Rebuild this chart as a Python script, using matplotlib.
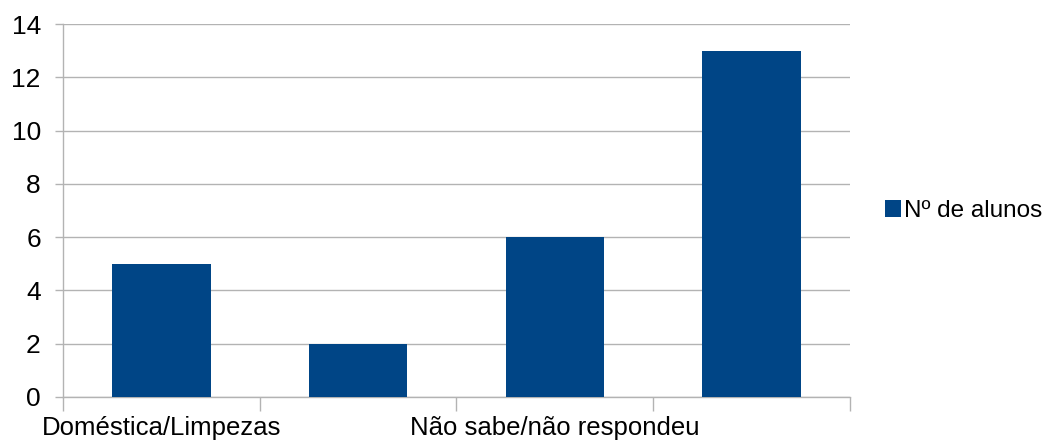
import matplotlib
matplotlib.use("Agg")
import matplotlib.pyplot as plt
import numpy as np

categories = ["Doméstica/Limpezas", "", "Não sabe/não respondeu", ""]
values = [5, 2, 6, 13]
series_name = "Nº de alunos"
yticks = [0, 2, 4, 6, 8, 10, 12, 14]

plt.rcParams['font.family'] = ['Liberation Sans', 'DejaVu Sans']

fig = plt.figure(figsize=(10.49, 4.43), dpi=100)
ax = fig.add_axes([63/1049, 1 - 397/443, (850-63)/1049, (397-24)/443])

x = np.arange(len(categories))
ax.bar(x, values, width=0.5, color="#004586", label=series_name, zorder=3)

ax.set_xlim(-0.5, len(categories) - 0.5)
ax.set_ylim(0, 14)
ax.set_yticks(yticks)
ax.yaxis.grid(True, color="#b3b3b3", linewidth=1, zorder=0)
ax.set_xticks(x)
ax.set_xticklabels(categories, fontsize=18.5)
ax.set_xticks(np.arange(-0.5, len(categories)), minor=True)
ax.tick_params(axis='x', which='major', length=0, pad=14)
ax.tick_params(axis='x', which='minor', length=10, color="#b3b3b3", width=1)
ax.tick_params(axis='y', length=6, color="#b3b3b3", width=1, labelsize=19, pad=10)

for s in ['top', 'right']:
    ax.spines[s].set_visible(False)
for s in ['left', 'bottom']:
    ax.spines[s].set_color("#b3b3b3")
    ax.spines[s].set_linewidth(1)

leg = fig.legend(loc='center left', bbox_to_anchor=(885/1049, 1 - 211/443),
                 frameon=False, fontsize=17.5, handlelength=0.65, handleheight=0.65,
                 handletextpad=0.12, borderaxespad=0, borderpad=0)

fig.savefig("out.png", dpi=100)
